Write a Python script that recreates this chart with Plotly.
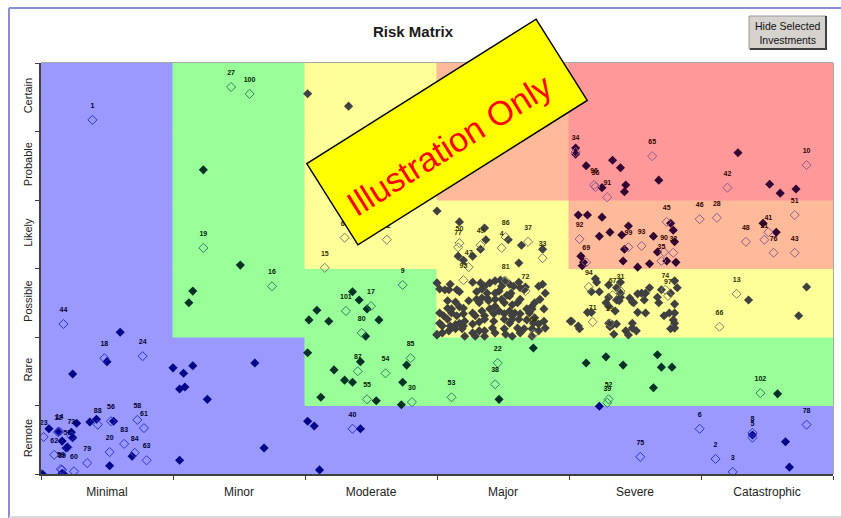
import math
import plotly.graph_objects as go

# ---------------------------------------------------------------- data
impact_levels = ["Minimal", "Minor", "Moderate", "Major", "Severe", "Catastrophic"]
likelihood_levels = ["Remote", "Rare", "Possible", "Likely", "Probable", "Certain"]

# zone class of each matrix cell; rows = likelihood (Remote first), cols = impact
zone_grid = [
    ["low", "low", "low", "low", "low", "low"],
    ["low", "low", "mid", "mid", "mid", "mid"],
    ["low", "mid", "mid", "elev", "elev", "elev"],
    ["low", "mid", "elev", "elev", "high", "high"],
    ["low", "mid", "elev", "high", "extreme", "extreme"],
    ["low", "mid", "elev", "high", "extreme", "extreme"],
]
zone_colors = {"low": "#9999FF", "mid": "#99FF99", "elev": "#FFFF99",
               "high": "#FFBB99", "extreme": "#FF9999"}

# investments as (impact score, likelihood score); selected ones carry an id
blue_points = [
    (0.60, 2.07), (0.50, 1.64), (0.24, 1.46), (1.00, 1.55), (1.08, 1.47), (1.15, 1.58),
    (1.09, 1.27), (1.05, 1.24), (1.26, 1.09), (1.62, 1.62), (1.69, 0.38), (1.05, 0.20),
    (0.06, 0.66), (0.13, 0.62), (0.27, 0.74), (0.23, 0.61), (0.24, 0.53), (0.37, 0.76),
    (0.42, 0.80), (0.55, 0.77), (0.16, 0.48), (0.20, 0.39), (0.19, 0.38), (0.69, 0.26),
    (0.16, 0.01), (0.17, 0.00), (0.01, 0.00), (0.52, 0.12), (2.02, 0.77), (2.07, 0.70),
    (2.42, 0.66), (2.11, 0.06), (4.23, 0.99), (5.64, 0.47), (5.67, 0.10), (5.39, 0.57),
]
blue_selected = [
    ("1", 0.39, 5.17), ("44", 0.17, 2.19), ("18", 0.48, 1.69), ("24", 0.77, 1.72),
    ("23", 0.02, 0.54), ("88", 0.43, 0.72), ("56", 0.53, 0.77), ("58", 0.73, 0.79),
    ("61", 0.78, 0.67), ("83", 0.63, 0.44), ("20", 0.52, 0.32), ("84", 0.71, 0.31),
    ("63", 0.80, 0.20), ("79", 0.35, 0.16), ("57", 0.20, 0.39), ("62", 0.10, 0.28),
    ("12", 0.13, 0.61), ("14", 0.14, 0.62), ("73", 0.23, 0.55), ("89", 0.16, 0.06),
    ("59", 0.15, 0.07), ("60", 0.25, 0.04), ("40", 2.36, 0.66), ("75", 4.54, 0.25),
    ("6", 4.99, 0.66), ("2", 5.11, 0.22), ("3", 5.24, 0.03), ("8", 5.39, 0.60),
    ("5", 5.39, 0.53), ("78", 5.80, 0.72),
]

green_points = [
    (1.23, 4.44), (1.51, 3.05), (1.15, 2.67), (1.12, 2.50), (2.36, 2.66), (2.41, 2.54),
    (2.47, 2.41), (2.09, 2.39), (2.03, 2.25), (2.18, 2.23), (2.56, 2.25), (2.46, 2.01),
    (2.02, 1.77), (2.42, 1.64), (2.77, 1.59), (2.22, 1.52), (2.30, 1.37), (2.36, 1.34),
    (2.74, 1.34), (2.54, 1.07), (2.12, 1.12), (2.73, 1.01), (3.47, 1.09), (3.73, 1.84),
    (3.00, 2.03), (4.13, 1.62), (4.28, 1.71), (4.41, 1.59), (4.67, 1.74), (4.70, 1.56),
    (4.78, 1.56), (4.64, 1.26), (5.58, 1.17),
]
green_selected = [
    ("27", 1.44, 5.65), ("100", 1.58, 5.55), ("19", 1.23, 3.30), ("16", 1.75, 2.74),
    ("9", 2.74, 2.76), ("17", 2.50, 2.45), ("101", 2.31, 2.38), ("80", 2.43, 2.06),
    ("85", 2.80, 1.69), ("87", 2.40, 1.50), ("54", 2.61, 1.47), ("55", 2.47, 1.09),
    ("30", 2.81, 1.05), ("53", 3.11, 1.12), ("22", 3.46, 1.62), ("38", 3.44, 1.31),
    ("52", 4.30, 1.09), ("39", 4.29, 1.04), ("102", 5.45, 1.18),
]

yellow_points = [
    # Moderate / Certain and Major / Likely
    (2.02, 5.55), (2.33, 5.37), (3.00, 3.84), (3.17, 3.68), (3.36, 3.59), (3.37, 3.42),
    (3.33, 3.28), (3.54, 3.42), (3.64, 3.34), (3.80, 3.28), (3.16, 3.18), (3.20, 3.12),
    (3.27, 3.18), (3.62, 3.08),
    # Major / Possible
    (3.00, 2.79), (3.02, 2.70), (3.06, 2.69), (3.09, 2.69), (3.10, 2.77), (3.15, 2.69),
    (3.17, 2.66), (3.27, 2.80), (3.33, 2.79), (3.34, 2.70), (3.36, 2.74), (3.38, 2.64),
    (3.40, 2.79), (3.44, 2.82), (3.48, 2.83), (3.51, 2.82), (3.49, 2.74), (3.47, 2.67),
    (3.44, 2.64), (3.55, 2.77), (3.58, 2.74), (3.56, 2.64), (3.53, 2.61), (3.62, 2.80),
    (3.63, 2.72), (3.67, 2.73), (3.66, 2.69), (3.77, 2.74), (3.80, 2.77), (3.82, 2.64),
    (3.30, 2.66), (3.38, 2.57), (3.08, 2.53), (3.14, 2.51), (3.08, 2.42), (3.11, 2.41),
    (3.17, 2.44), (3.20, 2.42), (3.24, 2.53), (3.30, 2.55), (3.32, 2.50), (3.34, 2.57),
    (3.39, 2.53), (3.44, 2.55), (3.49, 2.55), (3.51, 2.50), (3.55, 2.60), (3.57, 2.47),
    (3.61, 2.50), (3.63, 2.55), (3.72, 2.45), (3.74, 2.50), (3.78, 2.55), (3.81, 2.41),
    (3.72, 2.41), (3.70, 2.35), (3.02, 2.35), (3.05, 2.31), (3.11, 2.35), (3.15, 2.31),
    (3.20, 2.34), (3.27, 2.35), (3.29, 2.31), (3.34, 2.38), (3.36, 2.31), (3.40, 2.41),
    (3.43, 2.34), (3.44, 2.45), (3.47, 2.38), (3.51, 2.34), (3.55, 2.38), (3.57, 2.31),
    (3.59, 2.35), (3.63, 2.34), (3.68, 2.41), (3.08, 2.26), (3.02, 2.20), (3.04, 2.16),
    (3.10, 2.16), (3.14, 2.18), (3.17, 2.20), (3.20, 2.16), (3.21, 2.23), (3.27, 2.19),
    (3.32, 2.22), (3.36, 2.26), (3.43, 2.23), (3.51, 2.26), (3.55, 2.20), (3.57, 2.26),
    (3.62, 2.26), (3.68, 2.25), (3.73, 2.20), (3.77, 2.19), (3.81, 2.23), (3.74, 2.28),
    (3.00, 2.04), (3.04, 2.06), (3.09, 2.09), (3.14, 2.12), (3.19, 2.12), (3.21, 2.01),
    (3.27, 2.06), (3.29, 2.01), (3.32, 2.09), (3.36, 2.01), (3.36, 2.09), (3.42, 2.13),
    (3.44, 2.06), (3.51, 2.12), (3.52, 2.04), (3.57, 2.01), (3.61, 2.13), (3.66, 2.12),
    (3.72, 2.01), (3.72, 2.12), (3.77, 2.09), (3.82, 2.13), (3.63, 2.06),
    # Severe / Possible
    (4.01, 2.23), (4.20, 2.85), (4.21, 2.80), (4.17, 2.66), (4.23, 2.66), (4.30, 2.76),
    (4.39, 2.80), (4.36, 2.72), (4.39, 2.64), (4.30, 2.58), (4.39, 2.58), (4.36, 2.54),
    (4.38, 2.53), (4.46, 2.57), (4.48, 2.51), (4.49, 2.50), (4.52, 2.63), (4.55, 2.64),
    (4.58, 2.64), (4.61, 2.72), (4.57, 2.54), (4.67, 2.58), (4.68, 2.50), (4.28, 2.50),
    (4.30, 2.45), (4.80, 2.82), (4.82, 2.72), (4.70, 2.69), (4.77, 2.64), (4.80, 2.48),
    (4.80, 2.35), (4.76, 2.35), (4.72, 2.31), (4.79, 2.25), (4.80, 2.20), (4.80, 2.13),
    (4.77, 2.12), (4.14, 2.36), (4.17, 2.36), (4.35, 2.38), (4.52, 2.36), (4.58, 2.35),
    (4.30, 2.20), (4.33, 2.18), (4.36, 2.19), (4.31, 2.15), (4.02, 2.23), (4.07, 2.16),
    (4.08, 2.12), (4.48, 2.20), (4.48, 2.13), (4.43, 2.09), (4.51, 2.09), (4.34, 2.04),
    (4.45, 2.03),
    # Catastrophic / Possible
    (5.36, 2.54), (5.80, 2.73), (5.74, 2.31),
]
yellow_selected = [
    ("68", 2.30, 3.45), ("82", 2.62, 3.42), ("15", 2.15, 3.01), ("50", 3.17, 3.37),
    ("77", 3.16, 3.31), ("49", 3.33, 3.34), ("86", 3.52, 3.46), ("4", 3.49, 3.30),
    ("37", 3.69, 3.39), ("33", 3.80, 3.15), ("47", 3.24, 3.02), ("95", 3.20, 2.83),
    ("81", 3.52, 2.82), ("72", 3.67, 2.67), ("64", 3.73, 2.04), ("94", 4.15, 2.73),
    ("67", 4.33, 2.61), ("31", 4.39, 2.67), ("74", 4.73, 2.69), ("97", 4.75, 2.60),
    ("71", 4.18, 2.22), ("29", 4.31, 2.20), ("13", 5.27, 2.63), ("66", 5.14, 2.15),
]

red_points = [
    (4.05, 4.76), (4.05, 4.67), (4.13, 4.50), (4.25, 4.18), (4.33, 4.58), (4.39, 4.47),
    (4.43, 4.22), (4.42, 4.12), (4.68, 4.29), (5.28, 4.69), (5.52, 4.23), (5.60, 4.10),
    (5.72, 4.16), (4.07, 3.78), (4.14, 3.78), (4.25, 3.75), (4.77, 3.66), (4.45, 3.62),
    (4.31, 3.53), (4.23, 3.47), (4.40, 3.49), (4.64, 3.47), (4.79, 3.56), (4.80, 3.39),
    (4.67, 3.24), (4.42, 3.28), (4.09, 3.18), (4.11, 3.09), (4.10, 3.04), (4.41, 3.11),
    (4.52, 3.02), (4.61, 3.07), (4.74, 3.11), (4.81, 3.09), (5.47, 3.66), (5.57, 3.53),
]
red_selected = [
    ("34", 4.05, 4.70), ("36", 4.20, 4.19), ("96", 4.19, 4.22), ("91", 4.29, 4.04),
    ("65", 4.63, 4.64), ("10", 5.80, 4.51), ("42", 5.20, 4.18), ("45", 4.74, 3.68),
    ("46", 4.99, 3.72), ("28", 5.12, 3.74), ("51", 5.71, 3.78), ("92", 4.08, 3.43),
    ("99", 4.45, 3.31), ("93", 4.55, 3.33), ("90", 4.72, 3.24), ("32", 4.79, 3.23),
    ("35", 4.70, 3.11), ("69", 4.13, 3.09), ("41", 5.51, 3.53), ("21", 5.48, 3.42),
    ("48", 5.34, 3.39), ("76", 5.55, 3.23), ("43", 5.71, 3.23),
]

# marker styling per zone family: (filled colour, open outline colour, label colour)
family_styles = {
    "blue": ("#000088", "#3333CC", "#000033"),
    "green": ("#003326", "#2E8060", "#002200"),
    "yellow": ("#404040", "#7A7A6A", "#333300"),
    "red": ("#330033", "#8E5A8E", "#330000"),
}
families = [
    ("blue", blue_points, blue_selected),
    ("green", green_points, green_selected),
    ("yellow", yellow_points, yellow_selected),
    ("red", red_points, red_selected),
]

# ---------------------------------------------------------------- layout helpers
W, H = 841, 518
ML, MR, MT, MB = 41, 8, 63, 44
PW, PH = W - ML - MR, H - MT - MB


def fx(px):
    return (px - ML) / PW


def fy(py):
    return (H - MB - py) / PH


fig = go.Figure()

for name, pts, sel in families:
    fill_c, open_c, text_c = family_styles[name]
    fig.add_trace(go.Scatter(
        x=[p[0] for p in pts], y=[p[1] for p in pts], mode="markers",
        marker=dict(symbol="diamond", size=7, color=fill_c, line=dict(width=0)),
        hoverinfo="skip", showlegend=False))
    fig.add_trace(go.Scatter(
        x=[s[1] for s in sel], y=[s[2] for s in sel], mode="markers",
        marker=dict(symbol="diamond-open", size=7, color=open_c, line=dict(width=1, color=open_c)),
        hoverinfo="skip", showlegend=False))
    # id labels above the selected investments (an invisible, larger marker sets the gap)
    fig.add_trace(go.Scatter(
        x=[s[1] for s in sel], y=[s[2] for s in sel], mode="markers+text",
        text=[s[0] for s in sel], textposition="top center",
        textfont=dict(family="Arial", size=7, color=text_c, weight="bold"),
        marker=dict(size=15, opacity=0),
        hoverinfo="skip", showlegend=False))

shapes = []
# risk zones
for r, row in enumerate(zone_grid):
    for c, z in enumerate(row):
        shapes.append(dict(type="rect", xref="x", yref="y", x0=c, x1=c + 1, y0=r, y1=r + 1,
                           fillcolor=zone_colors[z], line=dict(width=1, color=zone_colors[z]),
                           layer="below"))
# plot-area frame (top and right)
shapes.append(dict(type="line", xref="paper", yref="paper", x0=0, x1=1, y0=1, y1=1,
                   line=dict(color="#A8A8A8", width=2), layer="below"))
shapes.append(dict(type="line", xref="paper", yref="paper", x0=1, x1=1, y0=0, y1=1,
                   line=dict(color="#A8A8A8", width=2), layer="below"))
# chart-area border
shapes.append(dict(type="line", xref="paper", yref="paper", x0=fx(9), x1=fx(841), y0=fy(8), y1=fy(8),
                   line=dict(color="#8C8CDC", width=2)))
shapes.append(dict(type="line", xref="paper", yref="paper", x0=fx(9), x1=fx(9), y0=fy(8), y1=fy(518),
                   line=dict(color="#8C8CDC", width=2)))
shapes.append(dict(type="line", xref="paper", yref="paper", x0=fx(9), x1=fx(841), y0=fy(517), y1=fy(517),
                   line=dict(color="#DADADA", width=2)))

# button
shapes.append(dict(type="rect", xref="paper", yref="paper", x0=fx(749), x1=fx(826), y0=fy(49), y1=fy(16),
                   fillcolor="#D6D3CE", line=dict(color="#9A9A9A", width=1)))
shapes.append(dict(type="path", xref="paper", yref="paper",
                   path=f"M {fx(750):.5f},{fy(49):.5f} L {fx(826):.5f},{fy(49):.5f} L {fx(826):.5f},{fy(16):.5f}",
                   line=dict(color="#404040", width=2)))

# rotated "Illustration Only" placard
cx, cy, sw, sh = 447, 132, 271, 96
ang = math.radians(32.2)
u = (math.cos(ang), -math.sin(ang))
v = (math.sin(ang), math.cos(ang))
corners = [(cx + a * sw / 2 * u[0] + b * sh / 2 * v[0], cy + a * sw / 2 * u[1] + b * sh / 2 * v[1])
           for a, b in [(-1, -1), (1, -1), (1, 1), (-1, 1)]]
path = "M " + " L ".join(f"{fx(x):.5f},{fy(y):.5f}" for x, y in corners) + " Z"
shapes.append(dict(type="path", xref="paper", yref="paper", path=path,
                   fillcolor="#FFFF00", line=dict(color="#000000", width=1.5), layer="above"))

annotations = [
    dict(text="<b>Risk Matrix</b>", x=fx(413), y=fy(31), xref="paper", yref="paper",
         xanchor="center", yanchor="middle",
         showarrow=False, font=dict(family="Arial", size=15, color="#1A1A1A")),
    dict(text="Hide Selected<br>Investments", x=fx(787.5), y=fy(32.5), xref="paper", yref="paper",
         xanchor="center", yanchor="middle",
         showarrow=False, font=dict(family="Arial", size=10.5, color="#111111")),
    dict(text="Illustration Only", x=fx(449), y=fy(145), xref="paper", yref="paper",
         xanchor="center", yanchor="middle",
         showarrow=False, textangle=-32.2, font=dict(family="Arial", size=34, color="#FF0000")),
]

fig.update_layout(
    width=W, height=H, margin=dict(l=ML, r=MR, t=MT, b=MB),
    paper_bgcolor="white", plot_bgcolor="white",
    shapes=shapes, annotations=annotations, hovermode=False,
    xaxis=dict(range=[0, 6], tickmode="array", tickvals=[i + 0.5 for i in range(6)],
               ticktext=impact_levels, ticks="", showgrid=False, zeroline=False,
               showline=True, linecolor="#404040", linewidth=2, ticklabelstandoff=6,
               tickfont=dict(family="Arial", size=12, color="#222222"),
               minor=dict(tickmode="array", tickvals=list(range(7)), ticks="outside",
                          ticklen=4, tickcolor="#404040", tickwidth=1, showgrid=False),
               fixedrange=True),
    yaxis=dict(range=[0, 6], tickmode="array", tickvals=[i + 0.5 for i in range(6)],
               ticktext=likelihood_levels, ticks="", tickangle=-90, showgrid=False,
               zeroline=False, showline=True, linecolor="#404040", linewidth=2,
               ticklabelstandoff=3,
               tickfont=dict(family="Arial", size=11, color="#222222"),
               minor=dict(tickmode="array", tickvals=list(range(7)), ticks="outside",
                          ticklen=4, tickcolor="#404040", tickwidth=1, showgrid=False),
               fixedrange=True),
)

fig.write_html("out.html")
